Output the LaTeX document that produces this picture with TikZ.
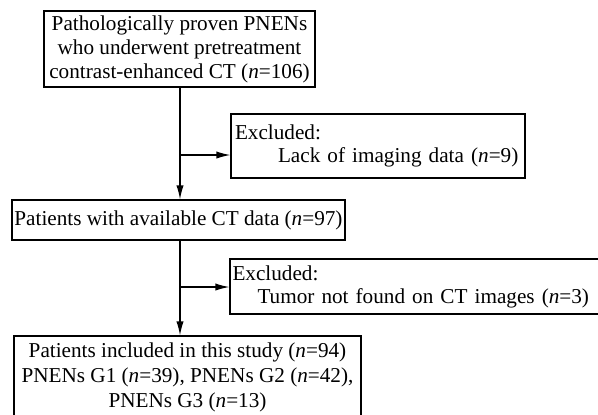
\documentclass[tikz,border=0pt]{standalone}
\usepackage{fontspec}
\setmainfont{Liberation Serif}
\usetikzlibrary{arrows.meta, positioning, calc}
\tikzset{
  stage/.style={rectangle, draw, line width=0.6pt, align=center, inner sep=0pt,
                font=\fontsize{10.6}{12}\selectfont},
  excl/.style={rectangle, draw, line width=0.6pt, align=left, inner ysep=0pt,
               font=\fontsize{10.6}{11.5}\selectfont},
  arr/.style={-{Latex[length=7pt,width=3.6pt]}, line width=0.6pt},
}
\newcommand{\nn}{\textit{n}}

\begin{document}
\begin{tikzpicture}[x=0.5pt,y=-0.5pt]
\useasboundingbox (0,0) rectangle (598,414);
\clip (0,0) rectangle (598,414);
\node[stage, minimum width=135.5pt, minimum height=38pt] (proven) at (179.5,49)
  {Pathologically proven PNENs\\who underwent pretreatment\\contrast-enhanced CT (\nn=106)};
\node[excl, inner xsep=2pt, text width=143pt, minimum height=32pt] (lack) at (378,146)
  {Excluded:\\\hspace*{21.5pt}Lack of imaging data (\nn=9)};
\node[stage, minimum width=166.5pt, minimum height=20pt] (avail) at (178.5,220)
  {Patients with available CT data (\nn=97)};
\node[excl, inner xsep=1.25pt, text width=185pt, minimum height=27.5pt] (tumor) at (417.5,286.5)
  {Excluded:\\\hspace*{12.5pt}Tumor not found on CT images (\nn=3)};
\node[stage, font=\fontsize{10.6}{12.5}\selectfont, minimum width=173.5pt, minimum height=41pt] (incl) at (187.5,377)
  {Patients included in this study (\nn=94)\\PNENs G1 (\nn=39), PNENs G2 (\nn=42),\\PNENs G3 (\nn=13)};
\draw[arr] (proven.south -| 180,0) -- (avail.north -| 180,0);
\draw[arr] (avail.south -| 180,0) -- (incl.north -| 180,0);
\draw[arr] (180,155) -- (lack.west |- 0,155);
\draw[arr] (180,287) -- (tumor.west |- 0,287);
\end{tikzpicture}
\end{document}
